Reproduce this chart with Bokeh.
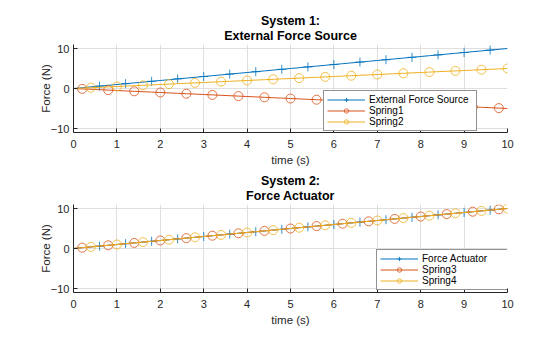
from bokeh.plotting import figure
from bokeh.layouts import column
from bokeh.models import Range1d, FixedTicker, Legend, LegendItem, Title
from bokeh.embed import file_html
from bokeh.resources import INLINE

# ---- data ----
time_s = [0.0, 0.2, 0.4, 0.6, 0.8, 1.0, 1.2, 1.4, 1.6, 1.8, 2.0, 2.2, 2.4, 2.6, 2.8,
          3.0, 3.2, 3.4, 3.6, 3.8, 4.0, 4.2, 4.4, 4.6, 4.8, 5.0, 5.2, 5.4, 5.6, 5.8,
          6.0, 6.2, 6.4, 6.6, 6.8, 7.0, 7.2, 7.4, 7.6, 7.8, 8.0, 8.2, 8.4, 8.6, 8.8,
          9.0, 9.2, 9.4, 9.6, 9.8, 10.0]

external_force = [0.0, 0.2, 0.4, 0.6, 0.8, 1.0, 1.2, 1.4, 1.6, 1.8, 2.0, 2.2, 2.4, 2.6, 2.8,
                  3.0, 3.2, 3.4, 3.6, 3.8, 4.0, 4.2, 4.4, 4.6, 4.8, 5.0, 5.2, 5.4, 5.6, 5.8,
                  6.0, 6.2, 6.4, 6.6, 6.8, 7.0, 7.2, 7.4, 7.6, 7.8, 8.0, 8.2, 8.4, 8.6, 8.8,
                  9.0, 9.2, 9.4, 9.6, 9.8, 10.0]
spring1 = [0.0, -0.1, -0.2, -0.3, -0.4, -0.5, -0.6, -0.7, -0.8, -0.9, -1.0, -1.1, -1.2, -1.3, -1.4,
           -1.5, -1.6, -1.7, -1.8, -1.9, -2.0, -2.1, -2.2, -2.3, -2.4, -2.5, -2.6, -2.7, -2.8, -2.9,
           -3.0, -3.1, -3.2, -3.3, -3.4, -3.5, -3.6, -3.7, -3.8, -3.9, -4.0, -4.1, -4.2, -4.3, -4.4,
           -4.5, -4.6, -4.7, -4.8, -4.9, -5.0]
spring2 = [0.0, 0.1, 0.2, 0.3, 0.4, 0.5, 0.6, 0.7, 0.8, 0.9, 1.0, 1.1, 1.2, 1.3, 1.4,
           1.5, 1.6, 1.7, 1.8, 1.9, 2.0, 2.1, 2.2, 2.3, 2.4, 2.5, 2.6, 2.7, 2.8, 2.9,
           3.0, 3.1, 3.2, 3.3, 3.4, 3.5, 3.6, 3.7, 3.8, 3.9, 4.0, 4.1, 4.2, 4.3, 4.4,
           4.5, 4.6, 4.7, 4.8, 4.9, 5.0]

force_actuator = [0.0, 0.2, 0.4, 0.6, 0.8, 1.0, 1.2, 1.4, 1.6, 1.8, 2.0, 2.2, 2.4, 2.6, 2.8,
                  3.0, 3.2, 3.4, 3.6, 3.8, 4.0, 4.2, 4.4, 4.6, 4.8, 5.0, 5.2, 5.4, 5.6, 5.8,
                  6.0, 6.2, 6.4, 6.6, 6.8, 7.0, 7.2, 7.4, 7.6, 7.8, 8.0, 8.2, 8.4, 8.6, 8.8,
                  9.0, 9.2, 9.4, 9.6, 9.8, 10.0]
spring3 = [0.0, 0.2, 0.4, 0.6, 0.8, 1.0, 1.2, 1.4, 1.6, 1.8, 2.0, 2.2, 2.4, 2.6, 2.8,
           3.0, 3.2, 3.4, 3.6, 3.8, 4.0, 4.2, 4.4, 4.6, 4.8, 5.0, 5.2, 5.4, 5.6, 5.8,
           6.0, 6.2, 6.4, 6.6, 6.8, 7.0, 7.2, 7.4, 7.6, 7.8, 8.0, 8.2, 8.4, 8.6, 8.8,
           9.0, 9.2, 9.4, 9.6, 9.8, 10.0]
spring4 = [0.0, 0.2, 0.4, 0.6, 0.8, 1.0, 1.2, 1.4, 1.6, 1.8, 2.0, 2.2, 2.4, 2.6, 2.8,
           3.0, 3.2, 3.4, 3.6, 3.8, 4.0, 4.2, 4.4, 4.6, 4.8, 5.0, 5.2, 5.4, 5.6, 5.8,
           6.0, 6.2, 6.4, 6.6, 6.8, 7.0, 7.2, 7.4, 7.6, 7.8, 8.0, 8.2, 8.4, 8.6, 8.8,
           9.0, 9.2, 9.4, 9.6, 9.8, 10.0]

x_ticks = [0, 1, 2, 3, 4, 5, 6, 7, 8, 9, 10]
y_ticks = [-10, 0, 10]

# ---- style ----
BLUE = "#0072BD"
ORANGE = "#D95319"
YELLOW = "#EDB120"
INK = "#262626"
FONT = "Liberation Sans"


def make_panel(title_top, title_bottom, series, height, border_top, border_bottom,
               legend_xy, label_width):
    p = figure(width=560, height=height, output_backend="svg", toolbar_location=None,
               title=None, x_range=Range1d(0, 10), y_range=Range1d(-11, 11),
               min_border_left=73, min_border_right=53,
               min_border_top=border_top, min_border_bottom=border_bottom,
               outline_line_color=None, background_fill_color="white",
               border_fill_color="white")

    inner = Title(text=title_bottom, align="center", text_font=FONT,
                  text_font_size="12.5px", text_font_style="bold",
                  text_color="black", standoff=3)
    outer = Title(text=title_top, align="center", text_font=FONT,
                  text_font_size="12.5px", text_font_style="bold",
                  text_color="black", standoff=-5)
    p.add_layout(inner, "above")
    p.add_layout(outer, "above")

    p.xaxis.ticker = FixedTicker(ticks=x_ticks)
    p.yaxis.ticker = FixedTicker(ticks=y_ticks)
    p.xaxis.axis_label = "time (s)"
    p.yaxis.axis_label = "Force (N)"
    p.axis.axis_line_color = INK
    p.axis.axis_line_width = 1
    p.axis.major_tick_line_color = INK
    p.axis.major_tick_in = 4
    p.axis.major_tick_out = 0
    p.axis.minor_tick_line_color = None
    p.axis.major_label_text_font = FONT
    p.axis.major_label_text_font_size = "11px"
    p.axis.major_label_text_color = INK
    p.axis.axis_label_text_font = FONT
    p.axis.axis_label_text_font_size = "11.5px"
    p.axis.axis_label_text_font_style = "normal"
    p.axis.axis_label_text_color = INK
    p.xaxis.major_label_standoff = 7
    p.xaxis.axis_label_standoff = 3
    p.yaxis.major_label_standoff = 4
    p.yaxis.axis_label_standoff = -4
    p.grid.grid_line_color = "#dfdfdf"
    p.grid.grid_line_width = 1

    items = []
    for name, values, color, marker, start in series:
        r_line = p.line(time_s, values, line_color=color, line_width=1)
        r_mark = p.scatter(time_s[start::3], values[start::3], marker=marker, size=9,
                           fill_color=None, line_color=color, line_width=1,
                           line_alpha=0.8)
        items.append(LegendItem(label=name, renderers=[r_line, r_mark]))

    legend = Legend(items=items, location=legend_xy,
                    border_line_color=INK, border_line_width=1,
                    background_fill_color="white", background_fill_alpha=1,
                    label_text_font=FONT, label_text_font_size="10px",
                    label_text_color="black",
                    glyph_width=38, glyph_height=11, label_height=11,
                    label_width=label_width, label_standoff=4,
                    padding=3, spacing=0, margin=0)
    p.add_layout(legend)
    return p


top = make_panel("System 1:", "External Force Source",
                 [("External Force Source", external_force, BLUE, "cross", 0),
                  ("Spring1", spring1, ORANGE, "circle", 1),
                  ("Spring2", spring2, YELLOW, "circle", 2)],
                 height=168, border_top=44, border_bottom=36,
                 legend_xy=(250, 1), label_width=104)

bottom = make_panel("System 2:", "Force Actuator",
                    [("Force Actuator", force_actuator, BLUE, "cross", 0),
                     ("Spring3", spring3, ORANGE, "circle", 1),
                     ("Spring4", spring4, YELLOW, "circle", 2)],
                    height=169, border_top=36, border_bottom=45,
                    legend_xy=(303, 2), label_width=83)

layout = column(top, bottom, spacing=0)

with open("out.html", "w") as f:
    f.write(file_html(layout, INLINE))
